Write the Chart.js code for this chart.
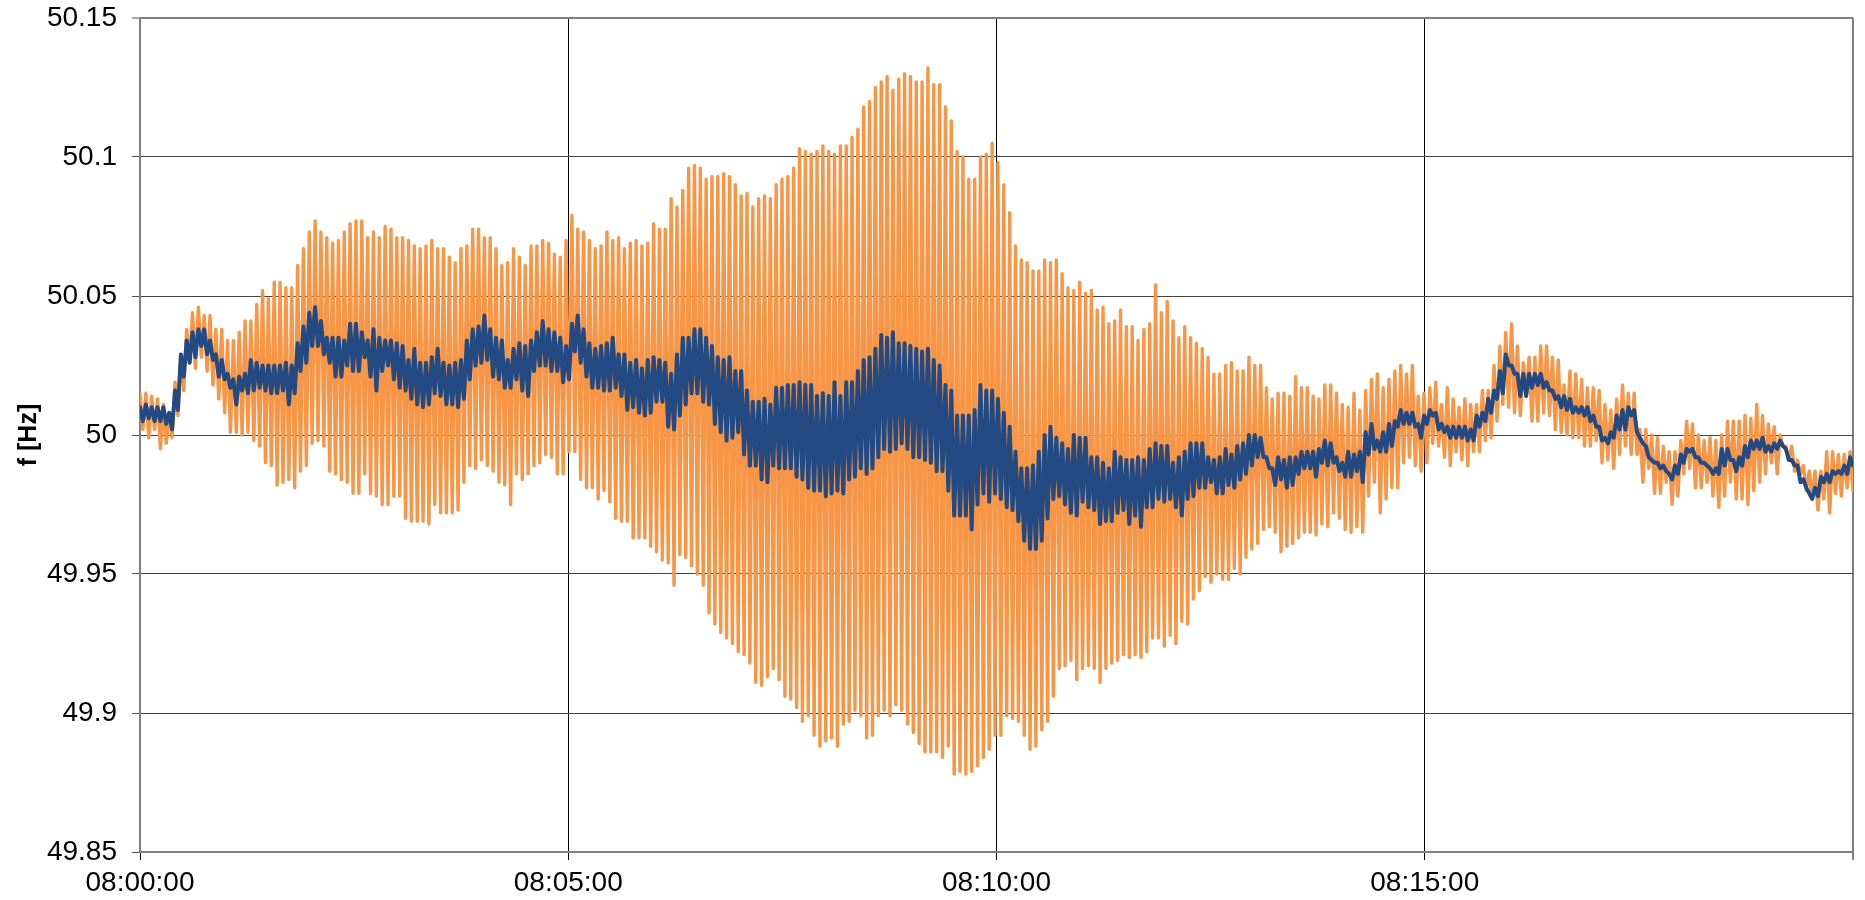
<!DOCTYPE html>
<html><head><meta charset="utf-8">
<script src="https://cdn.jsdelivr.net/npm/chart.js@4.4.1/dist/chart.umd.min.js"></script>
<style>html,body{margin:0;padding:0;background:#fff;}#wrap{width:1865px;height:900px;}</style>
</head><body><div id="wrap"><canvas id="c" width="1865" height="900"></canvas></div>
<script>
// Orange series: per oscillation cycle, the upper and lower swing (Hz)
const orangeHigh = [
50.015,50.015,50.014,50.013,50.011,50.008,50.019,50.029,50.038,50.044,50.046,50.043,50.043,50.038,50.038,50.034,50.034,50.037,50.041,50.041,50.047,50.052,50.049,50.055,50.055,50.053,50.053,50.061,50.067,50.073,50.077,50.073,50.071,50.069,50.070,50.073,50.076,50.077,50.077,50.071,50.073,50.071,
50.075,50.074,50.071,50.071,50.070,50.068,50.067,50.068,50.070,50.067,50.067,50.064,50.062,50.067,50.068,50.074,50.074,50.071,50.071,50.067,50.061,50.062,50.067,50.064,50.061,50.068,50.068,50.070,50.069,50.065,50.064,50.070,50.079,50.074,50.073,50.070,50.067,50.068,50.073,50.070,50.071,50.067,
50.069,50.070,50.068,50.069,50.076,50.074,50.074,50.085,50.082,50.088,50.096,50.097,50.096,50.092,50.093,50.093,50.094,50.093,50.090,50.086,50.087,50.082,50.085,50.086,50.085,50.090,50.092,50.093,50.096,50.103,50.102,50.101,50.102,50.104,50.102,50.101,50.104,50.104,50.107,50.110,50.118,50.120,
50.125,50.127,50.129,50.124,50.128,50.130,50.129,50.127,50.127,50.132,50.126,50.126,50.118,50.113,50.102,50.100,50.092,50.092,50.100,50.101,50.105,50.098,50.090,50.080,50.068,50.063,50.062,50.059,50.059,50.063,50.062,50.063,50.058,50.053,50.052,50.055,50.051,50.052,50.045,50.046,50.040,50.041,
50.045,50.039,50.039,50.034,50.038,50.040,50.054,50.044,50.048,50.041,50.035,50.039,50.035,50.033,50.031,50.028,50.022,50.022,50.025,50.026,50.023,50.023,50.028,50.025,50.025,50.017,50.013,50.015,50.015,50.014,50.021,50.017,50.017,50.014,50.013,50.018,50.018,50.015,50.011,50.010,50.015,50.009,
50.016,50.020,50.022,50.017,50.020,50.023,50.025,50.022,50.025,50.014,50.015,50.017,50.019,50.011,50.017,50.013,50.010,50.013,50.011,50.011,50.016,50.016,50.025,50.032,50.037,50.040,50.032,50.026,50.028,50.028,50.032,50.032,50.028,50.027,50.018,50.023,50.022,50.020,50.017,50.017,50.016,50.011,
50.009,50.013,50.018,50.015,50.015,50.002,50.002,50.000,49.999,49.996,49.994,49.994,49.998,50.005,50.004,50.000,49.998,49.999,49.998,50.000,50.005,50.005,50.005,50.007,50.006,50.011,50.007,50.004,50.003,50.000,49.996,49.996,49.991,49.989,49.987,49.987,49.987,49.994,49.994,49.993,49.993,49.994
];
const orangeLow = [
50.002,49.999,50.002,49.995,49.997,49.999,50.007,50.016,50.026,50.024,50.028,50.023,50.018,50.013,50.008,50.001,50.001,50.000,50.001,49.998,49.996,49.990,49.989,49.982,49.983,49.984,49.981,49.987,49.989,49.997,49.998,49.996,49.987,49.986,49.984,49.983,49.979,49.979,49.986,49.979,49.978,49.975,
49.975,49.978,49.978,49.970,49.969,49.969,49.969,49.968,49.975,49.972,49.972,49.972,49.973,49.983,49.989,49.988,49.991,49.989,49.987,49.983,49.982,49.975,49.986,49.984,49.986,49.989,49.990,49.993,49.992,49.986,49.986,49.994,49.994,49.984,49.981,49.981,49.977,49.980,49.976,49.970,49.969,49.969,
49.963,49.963,49.963,49.960,49.958,49.955,49.954,49.946,49.957,49.956,49.953,49.950,49.946,49.936,49.932,49.929,49.927,49.925,49.922,49.921,49.918,49.911,49.910,49.913,49.916,49.912,49.906,49.905,49.902,49.897,49.899,49.892,49.888,49.890,49.891,49.888,49.896,49.897,49.901,49.899,49.891,49.892,
49.899,49.901,49.899,49.903,49.901,49.896,49.893,49.889,49.886,49.886,49.886,49.884,49.888,49.878,49.879,49.878,49.879,49.881,49.884,49.887,49.892,49.892,49.899,49.898,49.897,49.892,49.887,49.888,49.894,49.897,49.906,49.916,49.917,49.919,49.912,49.916,49.917,49.916,49.911,49.916,49.918,49.919,
49.921,49.920,49.921,49.920,49.922,49.927,49.927,49.924,49.928,49.925,49.933,49.932,49.941,49.944,49.949,49.947,49.950,49.948,49.948,49.952,49.950,49.956,49.959,49.961,49.966,49.967,49.965,49.958,49.960,49.961,49.963,49.965,49.965,49.964,49.968,49.967,49.972,49.970,49.966,49.965,49.967,49.965,
49.978,49.983,49.972,49.977,49.981,49.981,49.990,49.992,49.989,49.987,49.990,49.997,49.996,49.992,49.989,49.994,49.991,49.989,49.994,49.994,49.998,49.999,50.005,50.011,50.010,50.008,50.007,50.014,50.005,50.005,50.008,50.007,50.002,50.001,50.000,49.999,49.999,49.996,49.996,49.998,49.990,49.991,
49.988,49.993,49.996,49.993,49.993,49.983,49.988,49.979,49.979,49.983,49.975,49.978,49.986,49.988,49.981,49.981,49.983,49.978,49.974,49.978,49.983,49.977,49.977,49.975,49.980,49.983,49.986,49.990,49.986,49.996,49.991,49.987,49.986,49.980,49.977,49.973,49.977,49.972,49.979,49.978,49.981,49.980
];
// Dark blue series: per oscillation cycle, upper and lower swing (Hz)
const blueHigh = [
50.010,50.011,50.010,50.010,50.010,50.008,50.016,50.029,50.034,50.037,50.038,50.038,50.034,50.029,50.027,50.022,50.020,50.021,50.022,50.027,50.026,50.025,50.025,50.025,50.025,50.026,50.025,50.033,50.039,50.044,50.046,50.041,50.035,50.035,50.035,50.034,50.040,50.040,50.037,50.034,50.038,50.035,
50.034,50.034,50.033,50.032,50.027,50.031,50.026,50.026,50.028,50.031,50.026,50.025,50.026,50.027,50.034,50.038,50.039,50.043,50.038,50.035,50.034,50.027,50.031,50.033,50.032,50.034,50.037,50.041,50.038,50.037,50.035,50.032,50.040,50.043,50.038,50.033,50.031,50.032,50.033,50.035,50.029,50.029,
50.026,50.027,50.024,50.027,50.028,50.027,50.026,50.022,50.029,50.035,50.035,50.038,50.038,50.035,50.032,50.028,50.027,50.028,50.023,50.023,50.016,50.012,50.012,50.013,50.011,50.017,50.017,50.018,50.018,50.019,50.018,50.018,50.014,50.015,50.014,50.019,50.014,50.019,50.019,50.023,50.027,50.028,
50.031,50.036,50.035,50.037,50.033,50.033,50.032,50.031,50.030,50.031,50.027,50.025,50.018,50.016,50.007,50.007,50.007,50.009,50.018,50.016,50.016,50.013,50.008,50.003,49.994,49.988,49.988,49.989,49.994,50.000,50.003,49.999,49.997,49.995,50.000,49.999,49.999,49.992,49.992,49.990,49.988,49.994,
49.992,49.991,49.991,49.992,49.991,49.995,49.997,49.996,49.996,49.990,49.992,49.994,49.997,49.997,49.997,49.992,49.991,49.992,49.995,49.993,49.996,49.997,50.000,50.000,49.999,49.992,49.988,49.992,49.991,49.992,49.992,49.994,49.994,49.994,49.995,49.998,49.997,49.992,49.990,49.994,49.993,49.994,
50.001,50.004,49.998,50.001,50.004,50.005,50.009,50.008,50.008,50.004,50.007,50.009,50.008,50.004,50.003,50.003,50.003,50.003,50.002,50.007,50.008,50.013,50.016,50.023,50.029,50.025,50.022,50.022,50.022,50.022,50.022,50.019,50.016,50.014,50.014,50.013,50.010,50.010,50.010,50.007,50.003,49.999,
50.001,50.007,50.009,50.010,50.009,49.999,49.996,49.991,49.990,49.989,49.986,49.989,49.993,49.995,49.995,49.992,49.990,49.988,49.988,49.995,49.995,49.991,49.992,49.996,49.998,49.998,49.999,49.996,49.997,49.998,49.995,49.991,49.989,49.984,49.979,49.981,49.985,49.986,49.987,49.987,49.989,49.992
];
const blueLow = [
50.005,50.006,50.005,50.005,50.004,50.002,50.009,50.021,50.026,50.028,50.032,50.029,50.027,50.021,50.020,50.017,50.011,50.016,50.015,50.016,50.017,50.016,50.015,50.015,50.016,50.011,50.015,50.023,50.026,50.032,50.032,50.029,50.026,50.021,50.021,50.025,50.023,50.023,50.028,50.021,50.016,50.023,
50.025,50.020,50.017,50.016,50.013,50.011,50.010,50.011,50.015,50.014,50.011,50.011,50.010,50.013,50.020,50.025,50.026,50.027,50.021,50.020,50.017,50.017,50.020,50.016,50.014,50.023,50.025,50.025,50.023,50.023,50.019,50.020,50.030,50.026,50.021,50.017,50.017,50.016,50.016,50.017,50.014,50.009,
50.010,50.008,50.007,50.008,50.012,50.012,50.003,50.002,50.007,50.011,50.015,50.015,50.012,50.011,50.004,50.001,49.998,49.999,50.001,49.993,49.989,49.989,49.984,49.983,49.989,49.988,49.988,49.988,49.985,49.984,49.981,49.980,49.980,49.978,49.979,49.980,49.979,49.984,49.985,49.988,49.986,49.988,
49.992,49.995,49.994,49.995,49.997,49.995,49.992,49.992,49.991,49.990,49.987,49.987,49.980,49.971,49.971,49.971,49.966,49.975,49.979,49.976,49.979,49.977,49.974,49.973,49.969,49.962,49.959,49.959,49.962,49.970,49.977,49.978,49.975,49.972,49.971,49.976,49.974,49.973,49.968,49.969,49.969,49.972,
49.973,49.968,49.971,49.967,49.974,49.974,49.977,49.976,49.977,49.974,49.971,49.977,49.978,49.981,49.981,49.983,49.979,49.979,49.982,49.981,49.984,49.986,49.989,49.992,49.992,49.988,49.982,49.984,49.981,49.982,49.986,49.988,49.988,49.985,49.990,49.989,49.990,49.987,49.985,49.985,49.987,49.983,
49.993,49.995,49.994,49.994,49.996,50.003,50.004,50.004,50.003,49.999,50.004,50.007,50.002,50.001,49.999,49.999,49.999,49.998,49.998,50.003,50.005,50.008,50.013,50.015,50.025,50.022,50.014,50.014,50.017,50.018,50.017,50.016,50.013,50.010,50.009,50.008,50.008,50.007,50.005,50.003,49.998,49.997,
49.999,50.002,50.002,50.007,50.001,49.997,49.992,49.990,49.988,49.987,49.984,49.986,49.990,49.994,49.992,49.990,49.989,49.986,49.986,49.989,49.991,49.987,49.989,49.992,49.995,49.995,49.994,49.994,49.995,49.996,49.991,49.989,49.983,49.981,49.977,49.978,49.983,49.983,49.986,49.986,49.986,49.989
];
// Axis: seconds after 08:00:00; ticks every 5 minutes
const xTickLabels = ['08:00:00','08:05:00','08:10:00','08:15:00'];
const spanSeconds = 1200;
const xTickStep = 300;
const yTickLabels = ['49.85','49.9','49.95','50','50.05','50.1','50.15'];
const yMin = 49.85, yMax = 50.15;

function buildSeries(hi, lo) {
  const n = hi.length * 2;
  const pts = [];
  for (let i = 0; i < hi.length; i++) {
    pts.push({x: (2 * i) * spanSeconds / (n - 1), y: hi[i]});
    pts.push({x: (2 * i + 1) * spanSeconds / (n - 1), y: lo[i]});
  }
  return pts;
}

const FONT = "'Liberation Sans', Arial, sans-serif";

new Chart(document.getElementById('c'), {
  type: 'line',
  data: {
    datasets: [
      {
        data: buildSeries(blueHigh, blueLow),
        borderColor: '#234A82',
        borderWidth: 4,
        pointRadius: 0,
        tension: 0,
        borderJoinStyle: 'round',
        borderCapStyle: 'round',
        order: 1
      },
      {
        data: buildSeries(orangeHigh, orangeLow),
        borderColor: '#F79646',
        borderWidth: 3.4,
        pointRadius: 0,
        tension: 0,
        borderJoinStyle: 'round',
        borderCapStyle: 'round',
        order: 2
      }
    ]
  },
  options: {
    responsive: false,
    devicePixelRatio: 1,
    animation: false,
    parsing: false,
    normalized: true,
    layout: {padding: {left: 0, right: 12, top: 18, bottom: 0}},
    plugins: {legend: {display: false}, tooltip: {enabled: false}},
    scales: {
      x: {
        type: 'linear',
        min: 0, max: spanSeconds,
        afterFit: s => { s.height = 48; s.paddingLeft = 0; s.paddingRight = 0; },
        afterBuildTicks: s => {
          s.ticks = [];
          for (let v = 0; v <= spanSeconds; v += xTickStep) s.ticks.push({value: v});
        },
        ticks: {
          autoSkip: false,
          maxRotation: 0,
          padding: 6,
          color: '#000',
          font: {family: FONT, size: 28},
          callback: v => { const k = Math.round(v / xTickStep); return k < xTickLabels.length ? xTickLabels[k] : ''; }
        },
        grid: {
          color: c => (c.tick && c.tick.value >= spanSeconds) ? '#808080' : '#000',
          lineWidth: c => (c.tick && c.tick.value >= spanSeconds) ? 2 : 1,
          drawTicks: true,
          tickLength: 8,
          tickColor: '#000',
          tickWidth: 1
        },
        border: {display: true, color: '#808080', width: 2}
      },
      y: {
        type: 'linear',
        min: yMin, max: yMax,
        afterFit: s => { s.width = 140; s.paddingTop = 0; s.paddingBottom = 0; },
        afterBuildTicks: s => {
          s.ticks = yTickLabels.map(t => ({value: parseFloat(t)}));
        },
        ticks: {
          padding: 15,
          color: '#000',
          font: {family: FONT, size: 28},
          callback: (v, i) => yTickLabels[i]
        },
        title: {
          display: true,
          text: 'f [Hz]',
          color: '#000',
          font: {family: FONT, size: 25, weight: 'bold'},
          padding: {top: 14, bottom: 0}
        },
        grid: {
          color: c => (c.tick && Math.abs(c.tick.value - yMax) < 1e-6) ? '#808080' : '#444',
          lineWidth: c => (c.tick && Math.abs(c.tick.value - yMax) < 1e-6) ? 2 : 1,
          drawTicks: true,
          tickLength: 8,
          tickColor: '#555',
          tickWidth: 1
        },
        border: {display: true, color: '#808080', width: 2}
      }
    }
  }
});
</script>
</body></html>
